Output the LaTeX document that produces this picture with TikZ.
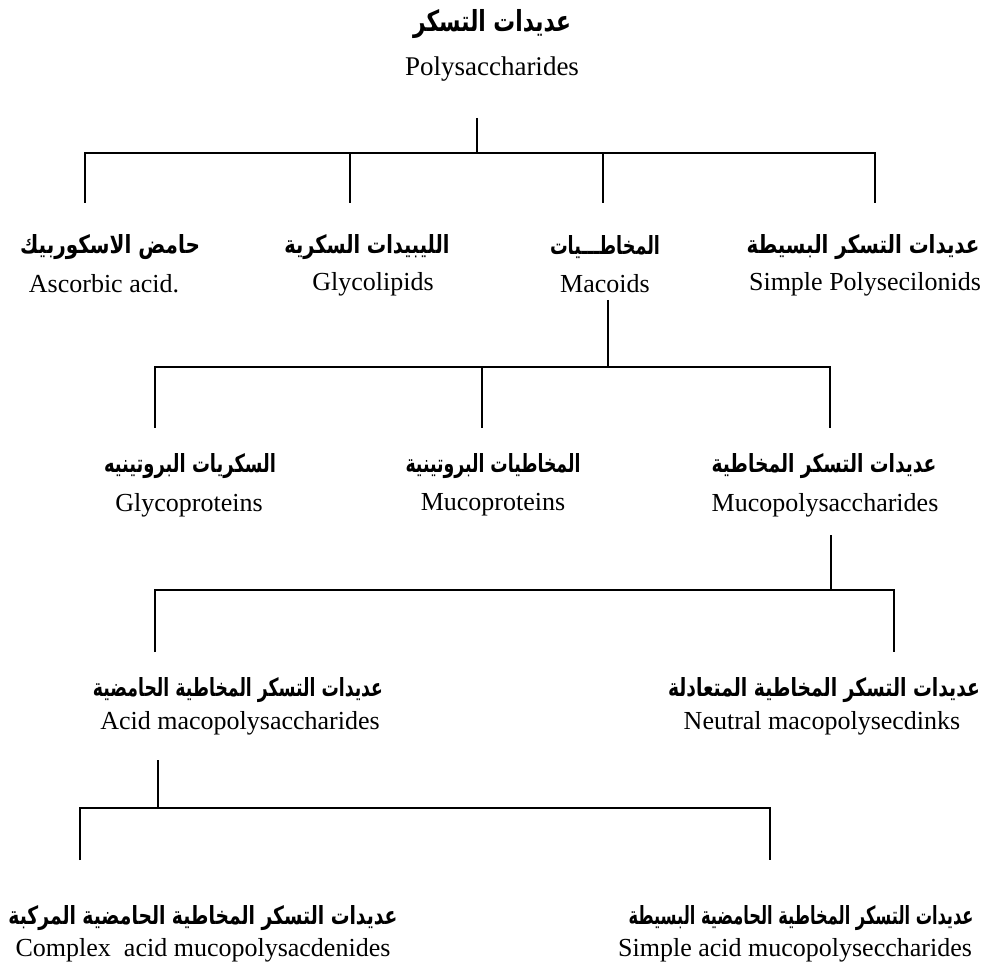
\documentclass[tikz,border=0pt]{standalone}
\usepackage{fontspec}
\usepackage{graphicx}
\setmainfont{Liberation Serif}
\newfontfamily\arabicfont[Script=Arabic]{DejaVu Sans}
\TeXXeTstate=1
\newcommand{\arbox}[2]{\resizebox{#1pt}{\height}{#2}}
\begin{document}
\begin{tikzpicture}[x=1pt,y=-1pt,
  ar/.style={font=\arabicfont\bfseries\fontsize{25}{28}\selectfont, inner sep=0pt},
  en/.style={font=\fontsize{26}{30}\selectfont, inner sep=0pt},
  conn/.style={line width=2.8pt, line join=miter},
  thinconn/.style={line width=1.9pt}]
\useasboundingbox[fill=white] (0,0) rectangle (994,976);
% title
\node[ar, font=\arabicfont\bfseries\fontsize{29}{32}\selectfont] (rootA) at (492,24) {\arbox{158}{\beginR عديدات التسكر\endR}};
\node[en, font=\fontsize{27}{31}\selectfont] (root) at (492,69) {Polysaccharides};
% level 1
\node[ar] (ascA) at (110,247) {\arbox{180}{\beginR حامض الاسكوربيك\endR}};
\node[en] (asc) at (104,284) {Ascorbic acid.};
\node[ar] (glyA) at (367,247) {\arbox{165}{\beginR الليبيدات السكرية\endR}};
\node[en] (gly) at (373,284) {Glycolipids};
\node[ar] (macA) at (605,247) {\arbox{110}{\beginR المخاطـــيات\endR}};
\node[en] (mac) at (605,284) {Macoids};
\node[ar] (simA) at (863,247) {\arbox{233}{\beginR عديدات التسكر البسيطة\endR}};
\node[en] (sim) at (865,284) {Simple Polysecilonids};
% level 2
\node[ar] (gpA) at (190,466) {\arbox{172}{\beginR السكريات البروتينيه\endR}};
\node[en] (gp) at (189,505) {Glycoproteins};
\node[ar] (mpA) at (493,466) {\arbox{175}{\beginR المخاطيات البروتينية\endR}};
\node[en] (mp) at (493,505) {Mucoproteins};
\node[ar] (mpsA) at (824,466) {\arbox{225}{\beginR عديدات التسكر المخاطية\endR}};
\node[en] (mps) at (825,505) {Mucopolysaccharides};
% level 3
\node[ar] (acA) at (238,690) {\arbox{290}{\beginR عديدات التسكر المخاطية الحامضية\endR}};
\node[en] (ac) at (240,723) {Acid macopolysaccharides};
\node[ar] (neA) at (824,690) {\arbox{312}{\beginR عديدات التسكر المخاطية المتعادلة\endR}};
\node[en] (ne) at (822,723) {Neutral macopolysecdinks};
% level 4
\node[ar] (cxA) at (203,918) {\arbox{389}{\beginR عديدات التسكر المخاطية الحامضية المركبة\endR}};
\node[en] (cx) at (203,950) {Complex\ \ acid mucopolysacdenides};
\node[ar] (saA) at (801,918) {\arbox{345}{\beginR عديدات التسكر المخاطية الحامضية البسيطة\endR}};
\node[en] (sa) at (795,950) {Simple acid mucopolyseccharides};
% connector coordinates
\coordinate (s0) at (477,118);  \coordinate (j0) at (477,153);
\coordinate (b1a) at (85,153);  \coordinate (b1b) at (350,153);
\coordinate (b1c) at (603,153); \coordinate (b1d) at (875,153);
\coordinate (e1a) at (85,203);  \coordinate (e1b) at (350,203);
\coordinate (e1c) at (603,203); \coordinate (e1d) at (875,203);
\coordinate (s1) at (608,300);  \coordinate (j1) at (608,367);
\coordinate (b2a) at (155,367); \coordinate (b2b) at (482,367); \coordinate (b2c) at (830,367);
\coordinate (e2a) at (155,428); \coordinate (e2b) at (482,428); \coordinate (e2c) at (830,428);
\coordinate (s2) at (831,535);  \coordinate (j2) at (831,590);
\coordinate (b3a) at (155,590); \coordinate (b3b) at (894,590);
\coordinate (e3a) at (155,652); \coordinate (e3b) at (894,652);
\coordinate (s3) at (158,760);  \coordinate (j3) at (158,808);
\coordinate (b4a) at (80,808);  \coordinate (b4b) at (770,808);
\coordinate (e4a) at (80,860);  \coordinate (e4b) at (770,860);
% connectors
\draw[conn] (s0) -- (j0);
\draw[conn] (e1a) -- (b1a) -- (b1d) -- (e1d);
\draw[conn] (b1b) -- (e1b);
\draw[conn] (b1c) -- (e1c);
\draw[conn] (s1) -- (j1);
\draw[conn] (e2a) -- (b2a) -- (b2c) -- (e2c);
\draw[conn] (b2b) -- (e2b);
\draw[thinconn] (s2) -- (j2);
\draw[conn] (e3a) -- (b3a) -- (b3b) -- (e3b);
\draw[conn] (s3) -- (j3);
\draw[conn] (e4a) -- (b4a) -- (b4b) -- (e4b);
\end{tikzpicture}
\end{document}
